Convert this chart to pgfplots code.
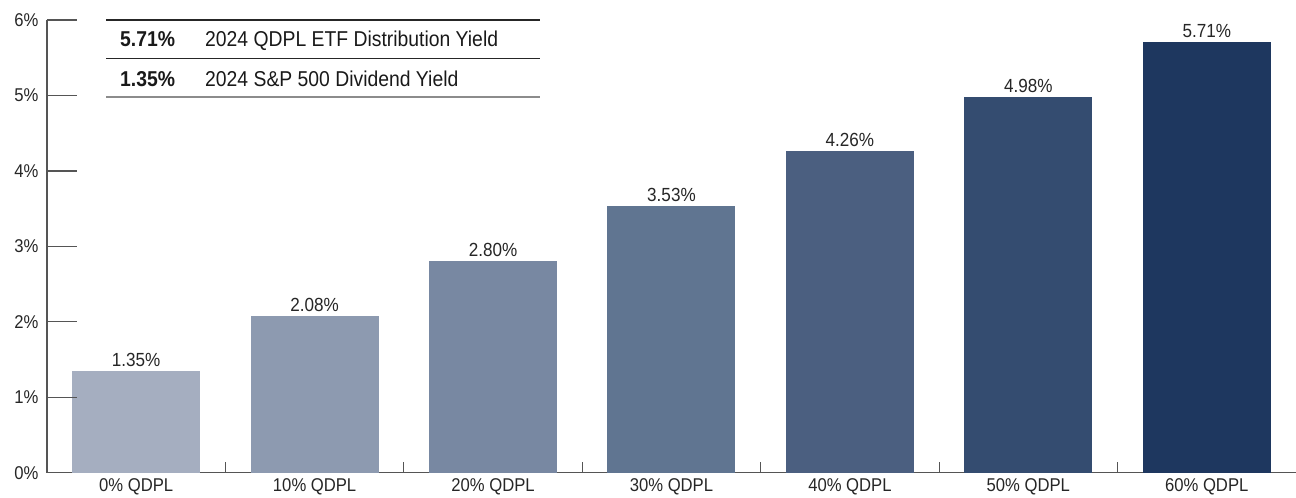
\documentclass[border=0pt]{standalone}
\usepackage{pgfplots}
\pgfplotsset{compat=1.18}
\usepackage{fontspec}
\setmainfont{Liberation Sans}
\newfontfamily\cond{Liberation Sans}[FakeStretch=0.9]
\definecolor{c1}{HTML}{A5AEC0}
\definecolor{c2}{HTML}{8D9AB0}
\definecolor{c3}{HTML}{7888A2}
\definecolor{c4}{HTML}{607591}
\definecolor{c5}{HTML}{4B5F80}
\definecolor{c6}{HTML}{344C70}
\definecolor{c7}{HTML}{1E375F}
\definecolor{axc}{HTML}{555555}
\begin{document}
\begin{tikzpicture}[x=1pt,y=1pt]
\path[use as bounding box] (-47,-25.3) rectangle (1249,472.7);
\begin{axis}[
  at={(0,0)}, anchor=south west,
  scale only axis, width=1249pt, height=452.7pt,
  xmin=-0.5, xmax=6.5, ymin=0, ymax=6,
  axis x line=bottom, axis y line=left,
  axis line style={draw=axc, line width=1.2pt, -},
  ytick={0,1,2,3,4,5,6},
  yticklabels={0\%,1\%,2\%,3\%,4\%,5\%,6\%},
  xtick={0,1,2,3,4,5,6},
  xticklabels={0\% QDPL,10\% QDPL,20\% QDPL,30\% QDPL,40\% QDPL,50\% QDPL,60\% QDPL},
  major tick length=0pt,
  tick style={draw=none},
  tick label style={font=\cond\fontsize{18.5}{20}\selectfont, text=black!85},
  yticklabel style={xshift=-5pt},
  xticklabel style={yshift=-2pt},
  ybar, bar width=128pt,
  point meta=explicit symbolic,
  nodes near coords,
  nodes near coords style={font=\cond\fontsize{19}{20}\selectfont, text=black!85, anchor=south, yshift=1pt},
  clip=false,
]
\addplot[bar shift=0pt, fill=c1, draw=none] coordinates {(0,1.35) [1.35\%]};
\addplot[bar shift=0pt, fill=c2, draw=none] coordinates {(1,2.08) [2.08\%]};
\addplot[bar shift=0pt, fill=c3, draw=none] coordinates {(2,2.80) [2.80\%]};
\addplot[bar shift=0pt, fill=c4, draw=none] coordinates {(3,3.53) [3.53\%]};
\addplot[bar shift=0pt, fill=c5, draw=none] coordinates {(4,4.26) [4.26\%]};
\addplot[bar shift=0pt, fill=c6, draw=none] coordinates {(5,4.98) [4.98\%]};
\addplot[bar shift=0pt, fill=c7, draw=none] coordinates {(6,5.71) [5.71\%]};
% separators on the category axis
\draw[axc, line width=1.2pt] (axis cs:0.5,0) -- ([yshift=11pt]axis cs:0.5,0);
\draw[axc, line width=1.2pt] (axis cs:1.5,0) -- ([yshift=11pt]axis cs:1.5,0);
\draw[axc, line width=1.2pt] (axis cs:2.5,0) -- ([yshift=11pt]axis cs:2.5,0);
\draw[axc, line width=1.2pt] (axis cs:3.5,0) -- ([yshift=11pt]axis cs:3.5,0);
\draw[axc, line width=1.2pt] (axis cs:4.5,0) -- ([yshift=11pt]axis cs:4.5,0);
\draw[axc, line width=1.2pt] (axis cs:5.5,0) -- ([yshift=11pt]axis cs:5.5,0);
% y ticks (inside, 30pt)
\draw[axc, line width=1.2pt] (axis cs:-0.5,1) -- ([xshift=30pt]axis cs:-0.5,1);
\draw[axc, line width=1.2pt] (axis cs:-0.5,2) -- ([xshift=30pt]axis cs:-0.5,2);
\draw[axc, line width=1.2pt] (axis cs:-0.5,3) -- ([xshift=30pt]axis cs:-0.5,3);
\draw[axc, line width=1.2pt] (axis cs:-0.5,4) -- ([xshift=30pt]axis cs:-0.5,4);
\draw[axc, line width=1.2pt] (axis cs:-0.5,5) -- ([xshift=30pt]axis cs:-0.5,5);
\draw[axc, line width=1.2pt] (axis cs:-0.5,6) -- ([xshift=30pt]axis cs:-0.5,6);
\end{axis}
% summary table
\draw[black!85, line width=2.2pt] (59,452.7) -- (493,452.7);
\draw[black!85, line width=1pt] (59,413.7) -- (493,413.7);
\draw[black!45, line width=1.8pt] (59,375.7) -- (493,375.7);
\node[anchor=base west, inner sep=0pt, font=\cond\bfseries\fontsize{21.5}{22}\selectfont, text=black!90] at (73,425.7) {5.71\%};
\node[anchor=base west, inner sep=0pt, font=\cond\fontsize{21.5}{22}\selectfont, text=black!90] at (158,425.7) {2024 QDPL ETF Distribution Yield};
\node[anchor=base west, inner sep=0pt, font=\cond\bfseries\fontsize{21.5}{22}\selectfont, text=black!90] at (73,385.7) {1.35\%};
\node[anchor=base west, inner sep=0pt, font=\cond\fontsize{21.5}{22}\selectfont, text=black!90] at (158,385.7) {2024 S\&P 500 Dividend Yield};
\end{tikzpicture}
\end{document}
